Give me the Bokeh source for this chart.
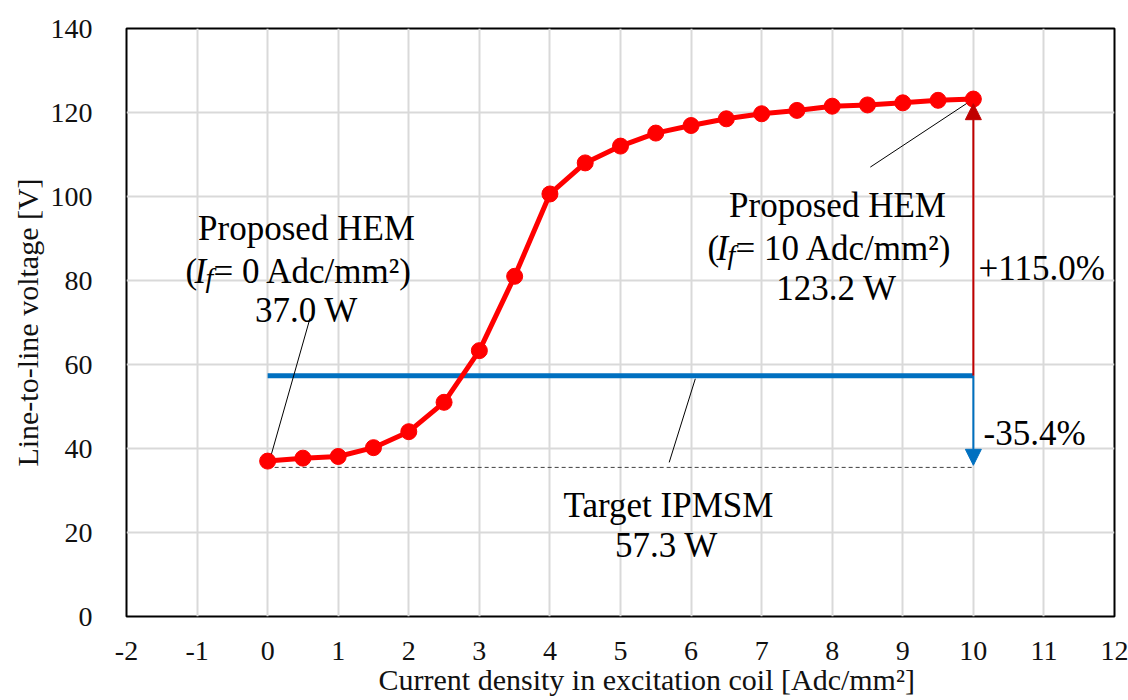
from bokeh.plotting import figure
from bokeh.models import Label, Arrow, NormalHead, FixedTicker, Range1d, PrintfTickFormatter
from bokeh.embed import file_html
from bokeh.resources import INLINE

# ---- data ----
current_density = [0, 0.5, 1, 1.5, 2, 2.5, 3, 3.5, 4, 4.5, 5,
                   5.5, 6, 6.5, 7, 7.5, 8, 8.5, 9, 9.5, 10]
hem_voltage = [37.0, 37.7, 38.1, 40.2, 44.0, 51.0, 63.3, 81.0, 100.6, 108.0, 112.0,
               115.1, 116.9, 118.5, 119.7, 120.5, 121.5, 121.8, 122.3, 122.9, 123.2]
ipmsm_voltage = 57.3
reduced_level = 35.5
x_ticks = [-2, -1, 0, 1, 2, 3, 4, 5, 6, 7, 8, 9, 10, 11, 12]
y_ticks = [0, 20, 40, 60, 80, 100, 120, 140]

FONT = "Liberation Serif"
RED = "#FF0000"
DARKRED = "#C00000"
BLUE = "#0070C0"

W, H = 1128, 700
L, R, T, B = 126, 14, 28, 84
XMIN, XMAX, YMIN, YMAX = -2, 12, 0, 140

p = figure(width=W, height=H, x_range=Range1d(XMIN, XMAX), y_range=Range1d(YMIN, YMAX),
           output_backend="svg", toolbar_location=None,
           min_border_left=L, min_border_right=R, min_border_top=T, min_border_bottom=B)
p.background_fill_color = "white"
p.border_fill_color = "white"
p.outline_line_color = "black"
p.outline_line_width = 2

UX = (W - L - R) / (XMAX - XMIN)
UY = (H - T - B) / (YMAX - YMIN)
X0 = L - XMIN * UX
Y0 = H - B


def dx(px):
    return (px - X0) / UX


def dy(py):
    return (Y0 - py) / UY


p.xaxis.ticker = FixedTicker(ticks=x_ticks)
p.yaxis.ticker = FixedTicker(ticks=y_ticks)
for ax in (p.xaxis[0], p.yaxis[0]):
    ax.formatter = PrintfTickFormatter(format="%d")
    ax.axis_line_color = None
    ax.major_tick_line_color = None
    ax.minor_tick_line_color = None
    ax.major_tick_out = 0
    ax.major_tick_in = 0
    ax.major_label_text_font = FONT
    ax.major_label_text_font_size = "28px"
    ax.major_label_text_color = "#111111"
    ax.axis_label_text_font = FONT
    ax.axis_label_text_font_size = "30px"
    ax.axis_label_text_font_style = "normal"
    ax.axis_label_text_color = "#111111"
p.yaxis[0].major_label_standoff = 34
p.xaxis[0].major_label_standoff = 25
p.yaxis[0].axis_label = "Line-to-line voltage [V]"
p.yaxis[0].axis_label_standoff = 4
p.xaxis[0].axis_label = "\u00a0" * 7 + "Current density in excitation coil [Adc/mm²]"
p.xaxis[0].axis_label_standoff = 0

for g in (p.xgrid, p.ygrid):
    g.grid_line_color = "#D9D9D9"
    g.grid_line_width = 2

# target line and reduced-level dashed line
p.line([current_density[0], current_density[-1]], [reduced_level, reduced_level],
       line_color="#404040", line_width=1, line_dash="4 3")
p.line([current_density[0], current_density[-1]], [ipmsm_voltage, ipmsm_voltage],
       line_color=BLUE, line_width=5)

# leader lines
p.line([current_density[0], 0.6], [reduced_level, 71], line_color="black", line_width=1)
p.line([5.69, 6.06], [36.7, 56.6], line_color="black", line_width=1)
p.line([current_density[-1], 8.54], [hem_voltage[-1], 107], line_color="black", line_width=1)

# HEM curve
p.line(current_density, hem_voltage, line_color=RED, line_width=5)
p.scatter(current_density, hem_voltage, size=16, fill_color=RED, line_color=RED)

# arrows
p.add_layout(Arrow(end=NormalHead(size=16, fill_color=DARKRED, line_color=DARKRED),
                   x_start=current_density[-1], y_start=ipmsm_voltage,
                   x_end=current_density[-1], y_end=hem_voltage[-1] - 1.1,
                   line_color=DARKRED, line_width=2))
p.add_layout(Arrow(end=NormalHead(size=16, fill_color=BLUE, line_color=BLUE),
                   x_start=current_density[-1], y_start=ipmsm_voltage,
                   x_end=current_density[-1], y_end=reduced_level + 0.5,
                   line_color=BLUE, line_width=2))


def put(px, py, text, size=35, style="normal", align="center", angle=0.0):
    p.add_layout(Label(x=dx(px), y=dy(py), text=text, text_font=FONT,
                       text_font_size=f"{size}px", text_font_style=style,
                       text_align=align, text_baseline="alphabetic",
                       text_color="black", angle=angle))


# left annotation
put(306, 228, "Proposed HEM")
put(185, 271, "(", align="left")
put(194, 271, "I", style="italic", align="left")
put(205, 277, "f", size=28, style="italic", align="left")
put(213, 271, "= 0 Adc/mm²)", align="left")
put(306, 310, "37.0 W")

# right annotation
put(837, 205, "Proposed HEM")
put(707, 248, "(", align="left")
put(716, 248, "I", style="italic", align="left")
put(727, 254, "f", size=28, style="italic", align="left")
put(735, 248, "= 10 Adc/mm²)", align="left")
put(836, 288, "123.2 W")

put(978, 268, "+115.0%", align="left")
put(983, 433, "-35.4%", align="left")

put(668, 505, "Target IPMSM")
put(666, 545, "57.3 W")

open("out.html", "w").write(file_html(p, INLINE))
